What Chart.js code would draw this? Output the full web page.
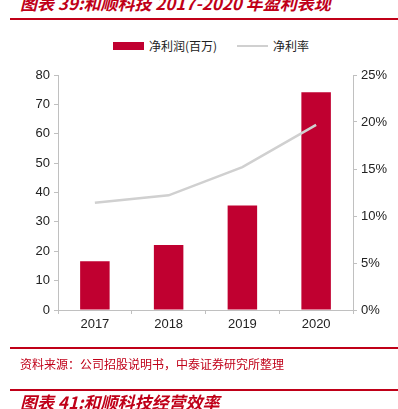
<!DOCTYPE html>
<html><head><meta charset="utf-8">
<script src="https://cdn.jsdelivr.net/npm/chart.js@4"></script>
<style>
html,body{margin:0;padding:0;background:#fff;width:398px;height:409px;overflow:hidden;position:relative;font-family:"Liberation Sans",Arial,sans-serif}
.t{position:absolute;white-space:nowrap;color:#c00018;font-family:"Noto Sans CJK SC";font-weight:bold;font-style:italic;font-size:17px;line-height:18px}
.hr{position:absolute;left:10px;right:0;height:2px;background:#c00018}
#src{position:absolute;left:20px;top:357px;font-family:"Noto Sans CJK SC";font-size:12px;line-height:14px;color:#c00018;white-space:nowrap}
#leg{position:absolute;top:38px;left:0;width:398px;height:16px;font-family:"Noto Sans CJK SC";font-size:12px;color:#222}
#leg span{position:absolute;top:0;line-height:16px}
#wrap{position:absolute;left:0;top:60px;width:398px;height:290px}
</style></head><body>
<div class="t" style="left:20px;top:-6px">图表 39:和顺科技 2017-2020 年盈利表现</div>
<div class="hr" style="top:18px"></div>
<div id="leg">
<div style="position:absolute;left:113px;top:4px;width:31px;height:8px;background:#c00030"></div>
<span style="left:149px">净利润(百万)</span>
<div style="position:absolute;left:237px;top:7px;width:31px;height:2px;background:#d0d0d0"></div>
<span style="left:273px">净利率</span>
</div>
<div id="wrap"><canvas id="c"></canvas></div>
<div class="hr" style="top:347px"></div>
<div id="src">资料来源：公司招股说明书，中泰证券研究所整理</div>
<div class="hr" style="top:389px"></div>
<div class="t" style="left:20px;top:393px">图表 41:和顺科技经营效率</div>
<script>
const categories = ["2017","2018","2019","2020"];
const netProfit = [16.6, 22.1, 35.6, 74.1];
const netMargin = [11.4, 12.2, 15.2, 19.7];
const leftTicks = [0,10,20,30,40,50,60,70,80];
const rightTicks = [0,5,10,15,20,25];

const gridCol = '#c0c0c0';
const tickFont = {family:'"Liberation Sans", Arial, sans-serif', size:13};
new Chart(document.getElementById('c'), {
  data: {
    labels: categories,
    datasets: [
      {type:'line', label:'净利率', data: netMargin, yAxisID:'y1', borderColor:'#d0d0d0', borderWidth:2.5, pointRadius:0, tension:0, order:0},
      {type:'bar', label:'净利润(百万)', data: netProfit, yAxisID:'y', backgroundColor:'#c00030', barPercentage:0.4, categoryPercentage:1, order:1}
    ]
  },
  options: {
    responsive:true, maintainAspectRatio:false, animation:false,
    layout:{padding:{top:15,left:0,right:0,bottom:0}},
    plugins:{legend:{display:false}, tooltip:{enabled:false}},
    scales:{
      x:{
        grid:{display:true, drawOnChartArea:false, tickLength:4, color:gridCol, offset:true},
        border:{color:gridCol, width:1},
        ticks:{color:'#222', font:tickFont, padding:3},
        afterFit:(s)=>{s.height=40;}
      },
      y:{
        position:'left', min:0, max:80,
        afterBuildTicks:(s)=>{s.ticks = leftTicks.map(v=>({value:v}));},
        grid:{display:true, drawOnChartArea:false, tickLength:4, color:gridCol},
        border:{color:gridCol, width:1},
        ticks:{color:'#222', font:tickFont, padding:4},
        afterFit:(s)=>{s.width=58;}
      },
      y1:{
        position:'right', min:0, max:25,
        afterBuildTicks:(s)=>{s.ticks = rightTicks.map(v=>({value:v}));},
        grid:{display:true, drawOnChartArea:false, tickLength:4, color:gridCol},
        border:{color:gridCol, width:1},
        ticks:{color:'#222', font:tickFont, padding:4, callback:(v)=>v+'%'},
        afterFit:(s)=>{s.width=45;}
      }
    }
  }
});
</script>
</body></html>
